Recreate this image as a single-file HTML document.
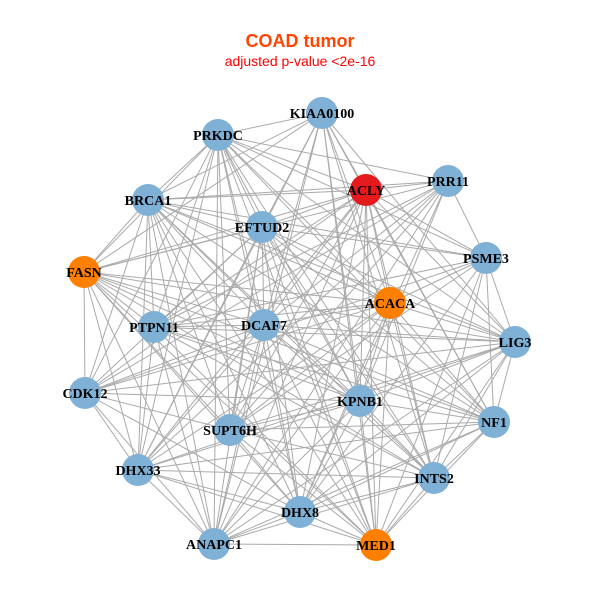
<!DOCTYPE html>
<html><head><meta charset="utf-8"><style>
html,body{margin:0;padding:0;background:#fff;}
svg{display:block;}
</style></head><body>
<svg id="g" width="600" height="600" xmlns="http://www.w3.org/2000/svg">
<rect width="600" height="600" fill="#fff"/>
<text x="300" y="47" text-anchor="middle" font-family="Liberation Sans, sans-serif" font-weight="bold" font-size="18" fill="#ff4500">COAD tumor</text>
<text x="300" y="66" text-anchor="middle" font-family="Liberation Sans, sans-serif" font-size="14" fill="#ff0000">adjusted p-value &lt;2e-16</text>
<g id="edges" stroke="#aaaaaa" stroke-width="1"></g>
<g id="nodes"></g>
<g font-family="Liberation Serif, serif" font-weight="bold" font-size="14" text-anchor="middle" fill="#000">
<text x="322" y="118">KIAA0100</text>
<text x="218" y="140">PRKDC</text>
<text x="366" y="195">ACLY</text>
<text x="448" y="186">PRR11</text>
<text x="148" y="205">BRCA1</text>
<text x="262" y="232">EFTUD2</text>
<text x="486" y="263">PSME3</text>
<text x="84" y="277">FASN</text>
<text x="390" y="308">ACACA</text>
<text x="154" y="332">PTPN11</text>
<text x="264" y="330">DCAF7</text>
<text x="515" y="347">LIG3</text>
<text x="85" y="398">CDK12</text>
<text x="360" y="406">KPNB1</text>
<text x="494" y="427">NF1</text>
<text x="230" y="435">SUPT6H</text>
<text x="138" y="475">DHX33</text>
<text x="434" y="483">INTS2</text>
<text x="300" y="517">DHX8</text>
<text x="214" y="549">ANAPC1</text>
<text x="376" y="550">MED1</text>
</g>
</svg>
<script>
var N=[[322,113,0],[218,135,0],[366,190,2],[448,181,0],[148,200,0],[262,227,0],[486,258,0],[84,272,1],[390,303,1],[154,327,0],[264,325,0],[515,342,0],[85,393,0],[360,401,0],[494,422,0],[230,430,0],[138,470,0],[434,478,0],[300,512,0],[214,544,0],[376,545,1]];
var ns="http://www.w3.org/2000/svg",E=document.getElementById("edges"),G=document.getElementById("nodes");
var cols=["#7fb0d5","#ff7f00","#e41a1c"];
for(var i=0;i<N.length;i++)for(var j=i+1;j<N.length;j++){
 if((i*7+j*3)%9==0)continue;
 var l=document.createElementNS(ns,"line");
 l.setAttribute("x1",N[i][0]);l.setAttribute("y1",N[i][1]);l.setAttribute("x2",N[j][0]);l.setAttribute("y2",N[j][1]);E.appendChild(l);}
for(var i=0;i<N.length;i++){var c=document.createElementNS(ns,"circle");
 c.setAttribute("cx",N[i][0]);c.setAttribute("cy",N[i][1]);c.setAttribute("r",16);c.setAttribute("fill",cols[N[i][2]]);G.appendChild(c);}
</script>
</body></html>
